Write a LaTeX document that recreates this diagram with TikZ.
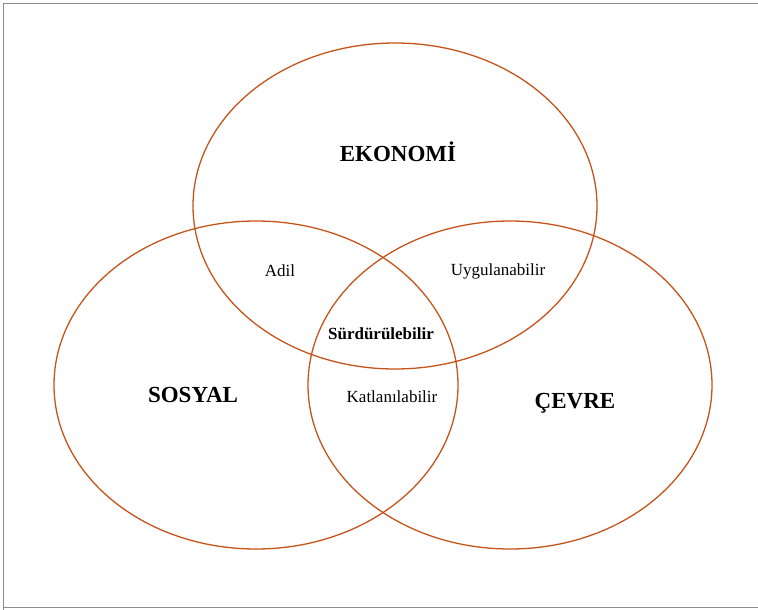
\documentclass[tikz,border=0pt]{standalone}
\usepackage{fontspec}
\setmainfont{Liberation Serif}
\definecolor{venn}{RGB}{197,84,26}
\definecolor{frame}{RGB}{140,140,140}
\begin{document}
\begin{tikzpicture}[x=1pt, y=-1pt, every node/.style={inner sep=0pt}]
    \useasboundingbox (0,0) rectangle (758,610);
    % Frame
    \draw[frame, line width=1.5pt] (3.5,610) -- (3.5,3.5) -- (758,3.5);
    \draw[frame, line width=1.5pt] (3.5,607.5) -- (758,607.5);

    % Circles
    \draw[venn, line width=1.3pt] (395,206) ellipse [x radius=202, y radius=163];
    \draw[venn, line width=1.3pt] (256,385) ellipse [x radius=202, y radius=164];
    \draw[venn, line width=1.3pt] (510,385) ellipse [x radius=202, y radius=164];

    % Labels
    \node (eko) at (398,152) {\fontsize{23}{27}\selectfont\bfseries EKONOMİ};
    \node (sos) at (193,395) {\fontsize{23}{27}\selectfont\bfseries SOSYAL};
    \node (cev) at (575,403) {\fontsize{23}{27}\selectfont\bfseries ÇEVRE};
    \node (adil) at (280,271) {\fontsize{17}{20}\selectfont Adil};
    \node (uyg) at (498,271) {\fontsize{17}{20}\selectfont Uygulanabilir};
    \node (sur) at (381,334) {\fontsize{17}{20}\selectfont\bfseries Sürdürülebilir};
    \node (kat) at (392,397) {\fontsize{17}{20}\selectfont Katlanılabilir};
\end{tikzpicture}
\end{document}
